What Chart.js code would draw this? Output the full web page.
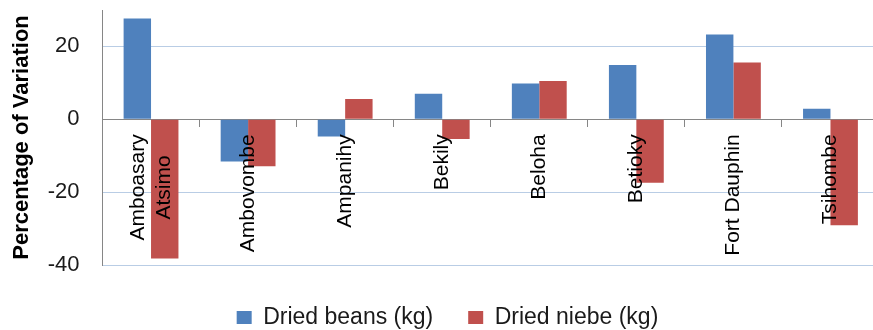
<!DOCTYPE html>
<html>
<head>
<meta charset="utf-8">
<script src="https://cdn.jsdelivr.net/npm/chart.js@4/dist/chart.umd.min.js"></script>
<style>
  html, body { margin: 0; padding: 0; background: #fff; overflow: hidden; }
  #wrap { width: 873px; height: 330px; overflow: hidden; position: relative; }
  canvas { display: block; }
</style>
</head>
<body>
<div id="wrap"><canvas id="chart" width="888" height="339"></canvas></div>
<script>
// Districts (first one split over two lines)
const categories = [['Amboasary', 'Atsimo'], 'Ambovombe', 'Ampanihy', 'Bekily', 'Beloha', 'Betioky', 'Fort Dauphin', 'Tsihombe'];
// Percentage of variation per product
const driedBeans = [27.7, -11.6, -4.7, 7.0, 9.8, 14.9, 23.3, 2.9];
const driedNiebe = [-38.2, -12.9, 5.6, -5.4, 10.5, -17.4, 15.6, -29.1];
const seriesNames = ['Dried beans (kg)', 'Dried niebe (kg)'];
const yTicks = [-40, -20, 0, 20];

const FONT = '"Liberation Sans", Arial, sans-serif';
Chart.defaults.font.family = FONT;
Chart.defaults.color = '#1a1a1a';

// Category names drawn rotated, sitting just under the zero line
const categoryLabels = {
  id: 'categoryLabels',
  afterDatasetsDraw(chart) {
    const { ctx, scales: { x, y } } = chart;
    const top = y.getPixelForValue(0) + 15;
    const lineH = 26;
    ctx.save();
    ctx.font = '21px ' + FONT;
    ctx.fillStyle = '#000';
    ctx.textAlign = 'center';
    ctx.textBaseline = 'middle';
    categories.forEach((lab, i) => {
      const lines = Array.isArray(lab) ? lab : [lab];
      const maxW = Math.max(...lines.map(l => ctx.measureText(l).width));
      ctx.save();
      ctx.translate(x.getPixelForValue(i), top);
      ctx.rotate(-Math.PI / 2);
      lines.forEach((l, j) => ctx.fillText(l, -maxW / 2, (j - (lines.length - 1) / 2) * lineH));
      ctx.restore();
    });
    ctx.restore();
  }
};

new Chart(document.getElementById('chart'), {
  type: 'bar',
  data: {
    labels: categories.map(c => Array.isArray(c) ? c.join(' ') : c),
    datasets: [
      { label: seriesNames[0], data: driedBeans, backgroundColor: '#4f81bd', borderWidth: 0 },
      { label: seriesNames[1], data: driedNiebe, backgroundColor: '#c0504d', borderWidth: 0 }
    ]
  },
  options: {
    responsive: false,
    animation: false,
    layout: { padding: { left: 16, right: 9, top: 10, bottom: 0 } },
    datasets: { bar: { categoryPercentage: 0.565, barPercentage: 1.0 } },
    scales: {
      x: {
        position: { y: 0 },
        offset: true,
        ticks: { display: false },
        grid: {
          display: true,
          offset: true,
          drawOnChartArea: false,
          drawTicks: true,
          tickLength: 7,
          tickColor: '#868686',
          color: '#868686'
        },
        border: { display: true, color: '#868686', width: 1 }
      },
      y: {
        min: -40,
        max: 30,
        afterBuildTicks: (scale) => { scale.ticks = yTicks.map(v => ({ value: v })); },
        afterFit: (scale) => { scale.width = 86.5; },
        ticks: {
          padding: 0,
          font: { size: 22, lineHeight: 0.9 },
          color: '#1a1a1a'
        },
        grid: {
          color: '#b9cde5',
          drawTicks: true,
          tickLength: 23,
          tickColor: 'rgba(0,0,0,0)'
        },
        border: { display: true, color: '#868686', width: 1 },
        title: {
          display: true,
          text: 'Percentage of Variation',
          font: { size: 22, weight: 'bold', lineHeight: 1.2 },
          color: '#000',
          padding: { top: -7, bottom: 0 }
        }
      }
    },
    plugins: {
      tooltip: { enabled: false },
      legend: {
        position: 'bottom',
        title: { display: true, text: '', font: { size: 6, lineHeight: 1 }, padding: 0 },
        labels: {
          boxWidth: 15,
          boxHeight: 13,
          padding: 35,
          font: { size: 23 },
          color: '#1a1a1a'
        }
      }
    }
  },
  plugins: [categoryLabels]
});
</script>
</body>
</html>
